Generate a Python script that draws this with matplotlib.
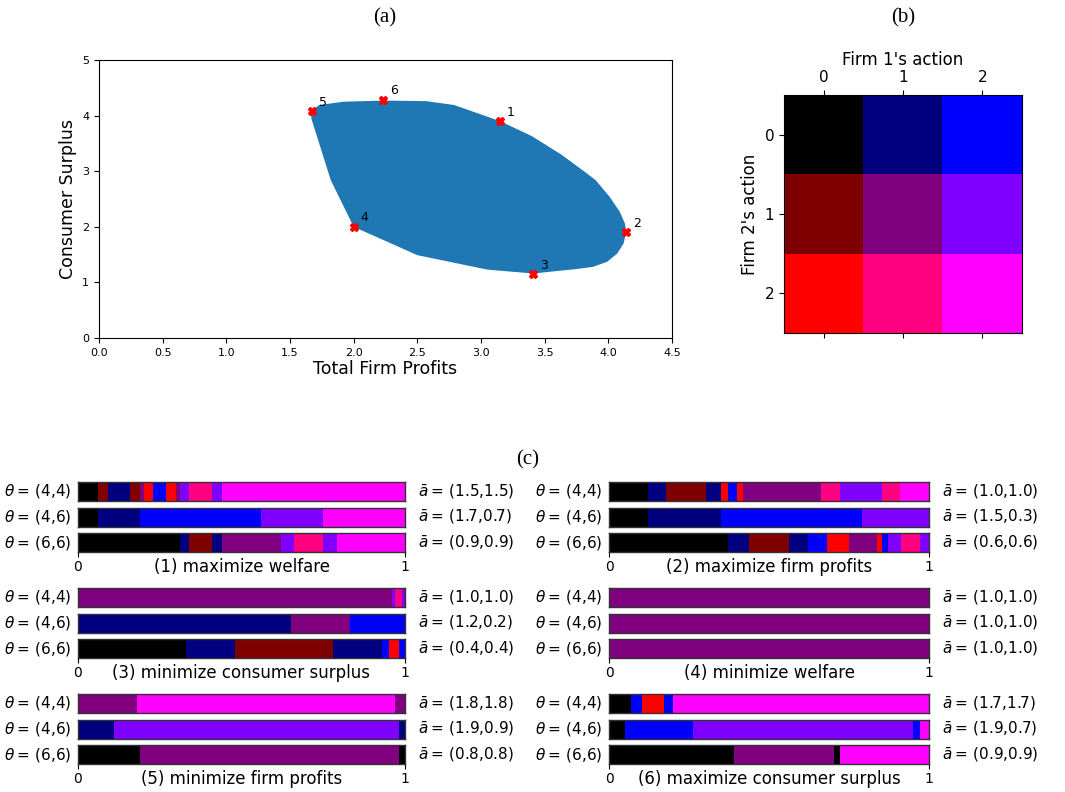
import numpy as np
import matplotlib.pyplot as plt

W, H = 1065, 792

# (a) boundary of the achievable region: total firm profits vs consumer surplus
region_x = [1.66, 1.73, 1.92, 2.24, 2.57, 2.79, 3.15, 3.40, 3.63, 3.82, 3.90, 4.01, 4.09, 4.13,
            4.14, 4.12, 4.07, 3.99, 3.88, 3.75, 3.62, 3.41, 3.05, 2.50, 2.00, 1.82, 1.67]
region_y = [4.07, 4.19, 4.25, 4.27, 4.26, 4.19, 3.90, 3.63, 3.30, 2.98, 2.84, 2.54, 2.27, 2.06,
            1.91, 1.70, 1.52, 1.37, 1.28, 1.24, 1.21, 1.16, 1.23, 1.49, 2.00, 2.84, 3.93]
opt_x = [3.15, 4.14, 3.41, 2.00, 1.67, 2.23]
opt_y = [3.90, 1.90, 1.15, 2.00, 4.08, 4.28]
opt_labels = ['1', '2', '3', '4', '5', '6']

# (b) action grid
actions = [0, 1, 2]

# (c) action profile (a1, a2) segments and their shares for each objective
thetas = ['(4,4)', '(4,6)', '(6,6)']
titles = ['(1) maximize welfare', '(2) maximize firm profits',
          '(3) minimize consumer surplus', '(4) minimize welfare',
          '(5) minimize firm profits', '(6) maximize consumer surplus']

p1_acts = [[(0, 0), (0, 1), (1, 0), (0, 1), (1, 1), (0, 2), (2, 0), (0, 2), (1, 1), (2, 1), (1, 2), (2, 1), (2, 2)],
           [(0, 0), (1, 0), (2, 0), (2, 1), (2, 2)],
           [(0, 0), (1, 0), (0, 1), (1, 0), (1, 1), (2, 1), (1, 2), (2, 1), (2, 2)]]
p1_w = [[.061, .031, .068, .030, .012, .028, .040, .029, .014, .027, .070, .031, .559],
        [.061, .129, .370, .189, .251],
        [.313, .027, .070, .031, .180, .040, .089, .042, .208]]
p1_abar = ['(1.5,1.5)', '(1.7,0.7)', '(0.9,0.9)']

p2_acts = [[(0, 0), (1, 0), (0, 1), (1, 0), (0, 2), (2, 0), (0, 2), (1, 1), (1, 2), (2, 1), (1, 2), (2, 2)],
           [(0, 0), (1, 0), (2, 0), (2, 1)],
           [(0, 0), (1, 0), (0, 1), (1, 0), (2, 0), (0, 2), (1, 1), (0, 2), (2, 0), (2, 1), (1, 2), (2, 1)]]
p2_w = [[.122, .057, .123, .047, .024, .026, .021, .242, .059, .131, .058, .090],
        [.122, .227, .441, .210],
        [.373, .066, .123, .060, .058, .070, .089, .014, .019, .040, .060, .028]]
p2_abar = ['(1.0,1.0)', '(1.5,0.3)', '(0.6,0.6)']

p3_acts = [[(1, 1), (2, 1), (1, 2), (2, 1)],
           [(1, 0), (1, 1), (2, 0)],
           [(0, 0), (1, 0), (0, 1), (1, 0), (2, 0), (0, 2), (2, 0)]]
p3_w = [[.960, .009, .021, .010],
        [.652, .180, .168],
        [.331, .150, .300, .149, .021, .031, .018]]
p3_abar = ['(1.0,1.0)', '(1.2,0.2)', '(0.4,0.4)']

p4_acts = [[(1, 1)], [(1, 1)], [(1, 1)]]
p4_w = [[1.0], [1.0], [1.0]]
p4_abar = ['(1.0,1.0)', '(1.0,1.0)', '(1.0,1.0)']

p5_acts = [[(1, 1), (2, 2), (1, 1)],
           [(1, 0), (2, 1), (1, 0)],
           [(0, 0), (1, 1), (0, 0)]]
p5_w = [[.181, .788, .031],
        [.111, .871, .018],
        [.190, .791, .019]]
p5_abar = ['(1.8,1.8)', '(1.9,0.9)', '(0.8,0.8)']

p6_acts = [[(0, 0), (2, 0), (0, 2), (2, 0), (2, 2)],
           [(0, 0), (2, 0), (2, 1), (2, 0), (2, 2)],
           [(0, 0), (1, 1), (0, 0), (2, 2)]]
p6_w = [[.070, .033, .068, .029, .800],
        [.051, .210, .689, .021, .029],
        [.390, .313, .019, .278]]
p6_abar = ['(1.7,1.7)', '(1.9,0.7)', '(0.9,0.9)']

panels = [(p1_acts, p1_w, p1_abar), (p2_acts, p2_w, p2_abar), (p3_acts, p3_w, p3_abar),
          (p4_acts, p4_w, p4_abar), (p5_acts, p5_w, p5_abar), (p6_acts, p6_w, p6_abar)]


def action_color(a1, a2):
    return (a2 / 2, 0, a1 / 2)


def box(left, top, right, bottom):
    # pixel box -> figure fraction rect
    return [left / W, 1 - bottom / H, (right - left) / W, (bottom - top) / H]


fig = plt.figure(figsize=(W / 100, H / 100), dpi=100)
serif = 'Liberation Serif'

# ---- (a) ----
ax = fig.add_axes(box(99, 60, 672, 338))
ax.fill(region_x, region_y, color='#1f77b4', lw=0)
ax.plot(opt_x, opt_y, 'X', color='red', ms=6, ls='none')
for x, y, s in zip(opt_x, opt_y, opt_labels):
    ax.annotate(s, (x, y), xytext=(5, 4), textcoords='offset points', fontsize=9)
ax.set_xlim(0, 4.5)
ax.set_ylim(0, 5)
ax.set_xticks(np.arange(0, 4.51, 0.5))
ax.tick_params(labelsize=8)
ax.set_xlabel('Total Firm Profits', fontsize=12.5, labelpad=2)
ax.set_ylabel('Consumer Surplus', fontsize=12.5)
fig.text(385 / W, 1 - 18 / H, '(a)', family=serif, fontsize=15, ha='center', va='center')

# ---- (b) ----
img = np.array([[action_color(a1, a2) for a1 in actions] for a2 in actions])
axb = fig.add_axes(box(784, 95, 1022, 333))
axb.imshow(img)
axb.set_xticks(actions)
axb.set_yticks(actions)
axb.tick_params(top=True, labeltop=True, labelbottom=False, labelsize=11)
axb.xaxis.set_label_position('top')
axb.set_xlabel("Firm 1's action", fontsize=12)
axb.set_ylabel("Firm 2's action", fontsize=12)
fig.text(903 / W, 1 - 18 / H, '(b)', family=serif, fontsize=15, ha='center', va='center')

# ---- (c) ----
fig.text(528 / W, 1 - 460 / H, '(c)', family=serif, fontsize=15, ha='center', va='center')
col_x = [(78, 405), (609, 929)]
for i, (acts, widths, abar) in enumerate(panels):
    x0, x1 = col_x[i % 2]
    g = i // 2
    for r in range(3):
        top = 482 + 106 * g + 25.7 * r
        axc = fig.add_axes(box(x0, top, x1, top + 19))
        lefts = np.concatenate([[0], np.cumsum(widths[r])[:-1]])
        axc.barh(0, widths[r], left=lefts, height=1,
                 color=[action_color(*a) for a in acts[r]], lw=0)
        axc.set_xlim(0, 1)
        axc.set_ylim(-0.5, 0.5)
        axc.set_yticks([])
        for sp in axc.spines.values():
            sp.set_color('#333333')
            sp.set_linewidth(1.0)
        axc.text(-0.02, 0.5, r'$\theta=\,$' + thetas[r], transform=axc.transAxes,
                 ha='right', va='center', fontsize=11)
        axc.text(1.04, 0.5, r'$\bar{a}=\,$' + abar[r], transform=axc.transAxes,
                 ha='left', va='center', fontsize=11)
        if r < 2:
            axc.set_xticks([])
        else:
            axc.set_xticks([0, 1])
            axc.tick_params(labelsize=10, pad=2)
            fig.text((x0 + x1) / 2 / W, 1 - (top + 34) / H, titles[i],
                     ha='center', va='center', fontsize=12)

fig.savefig('out.png', dpi=100)
